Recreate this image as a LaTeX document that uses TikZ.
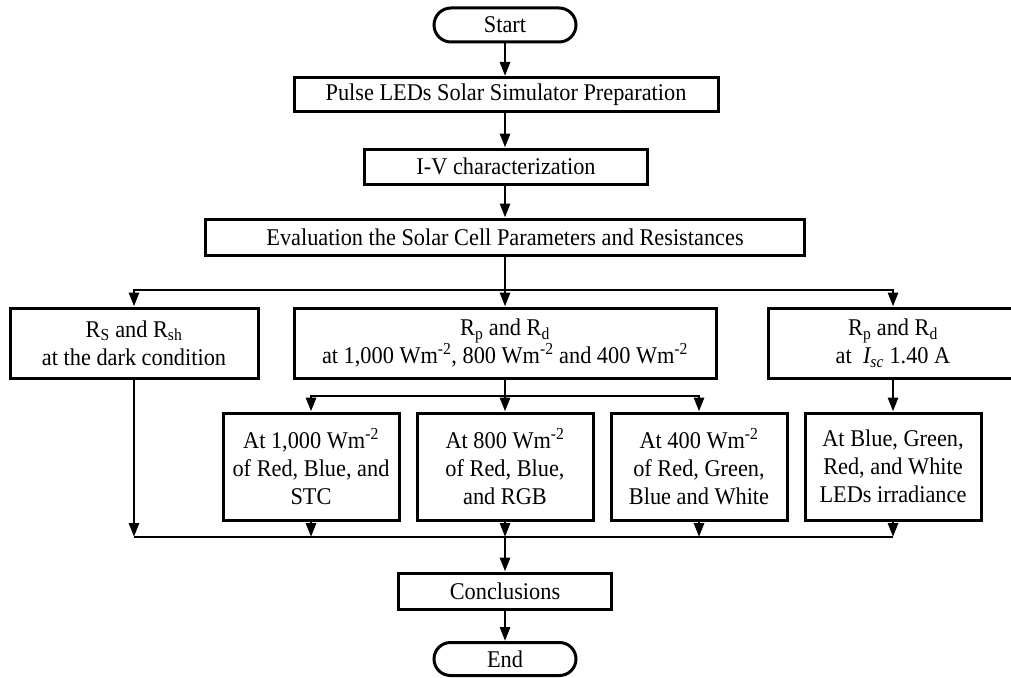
\documentclass[tikz,border=0pt]{standalone}
\usepackage{fontspec}
\setmainfont{Liberation Serif}[FakeStretch=0.93]
\usetikzlibrary{arrows.meta,shapes.misc}
\begin{document}
\begin{tikzpicture}[x=1pt,y=-1pt,
  box/.style={draw,line width=3pt,rectangle,inner sep=0pt,align=center,
    font=\fontsize{24}{28}\selectfont},
  term/.style={box,rounded rectangle},
  conn/.style={line width=2.8pt},
  arr/.style={conn,-{Triangle[length=14pt,width=10pt]}}]
\useasboundingbox (0,0) rectangle (1011,677);

\node[term,minimum width=142pt,minimum height=34pt] (start) at (505,25) {Start};
\node[box,minimum width=424pt,minimum height=34pt] (pulse) at (506,94.5) {Pulse LEDs Solar Simulator Preparation};
\node[box,minimum width=283pt,minimum height=35pt] (iv) at (506,166.5) {I-V characterization};
\node[box,minimum width=599pt,minimum height=36pt] (eval) at (505,237) {Evaluation the Solar Cell Parameters and Resistances};

\node[box,minimum width=248pt,minimum height=70pt] (rs) at (134,343)
  {R\textsubscript{S} and R\textsubscript{sh}\\at the dark condition};
\node[box,minimum width=422pt,minimum height=70pt] (rp) at (505,343)
  {R\textsubscript{p} and R\textsubscript{d}\\at 1,000 Wm\textsuperscript{-2}, 800 Wm\textsuperscript{-2} and 400 Wm\textsuperscript{-2}};
\node[box,minimum width=250pt,minimum height=70pt] (isc) at (893,343)
  {R\textsubscript{p} and R\textsubscript{d}\\at\ \ \textit{I\textsubscript{sc}} 1.40 A};

\node[box,minimum width=176pt,minimum height=107pt] (b1) at (311,466.5)
  {At 1,000 Wm\textsuperscript{-2}\\of Red, Blue, and\\STC};
\node[box,minimum width=176pt,minimum height=107pt] (b2) at (505,466.5)
  {At 800 Wm\textsuperscript{-2}\\of Red, Blue,\\and RGB};
\node[box,minimum width=176pt,minimum height=107pt] (b3) at (699,466.5)
  {At 400 Wm\textsuperscript{-2}\\of Red, Green,\\Blue and White};
\node[box,minimum width=176pt,minimum height=107pt] (b4) at (893,466.5)
  {At Blue, Green,\\Red, and White\\LEDs irradiance};

\node[box,minimum width=213pt,minimum height=36pt] (concl) at (505,591) {Conclusions};
\node[term,minimum width=142pt,minimum height=33pt] (finish) at (505,659) {End};

\draw[arr] (start) -- (start |- pulse.north);
\draw[arr] (start |- pulse.south) -- (start |- iv.north);
\draw[arr] (start |- iv.south) -- (eval);

\coordinate (j1) at (505,290);
\draw[conn] (eval) -- (j1);
\draw[arr] (j1) -| (rs);
\draw[arr] (j1) -| (isc);
\draw[arr] (j1) -- (rp);

\coordinate (j2) at (505,396);
\draw[conn] (rp) -- (j2);
\draw[arr] (j2) -| (b1);
\draw[arr] (j2) -| (b3);
\draw[arr] (j2) -- (b2);
\draw[arr] (isc) -- (b4);

\coordinate (j3) at (505,537);
\draw[arr] (rs) -- (rs |- j3);
\draw[arr] (b1) -- (b1 |- j3);
\draw[arr] (b2) -- (b2 |- j3);
\draw[arr] (b3) -- (b3 |- j3);
\draw[arr] (b4) -- (b4 |- j3);
\draw[conn] (rs |- j3) -- (b4 |- j3);
\draw[arr] (j3) -- (concl);
\draw[arr] (concl) -- (finish);
\end{tikzpicture}
\end{document}
